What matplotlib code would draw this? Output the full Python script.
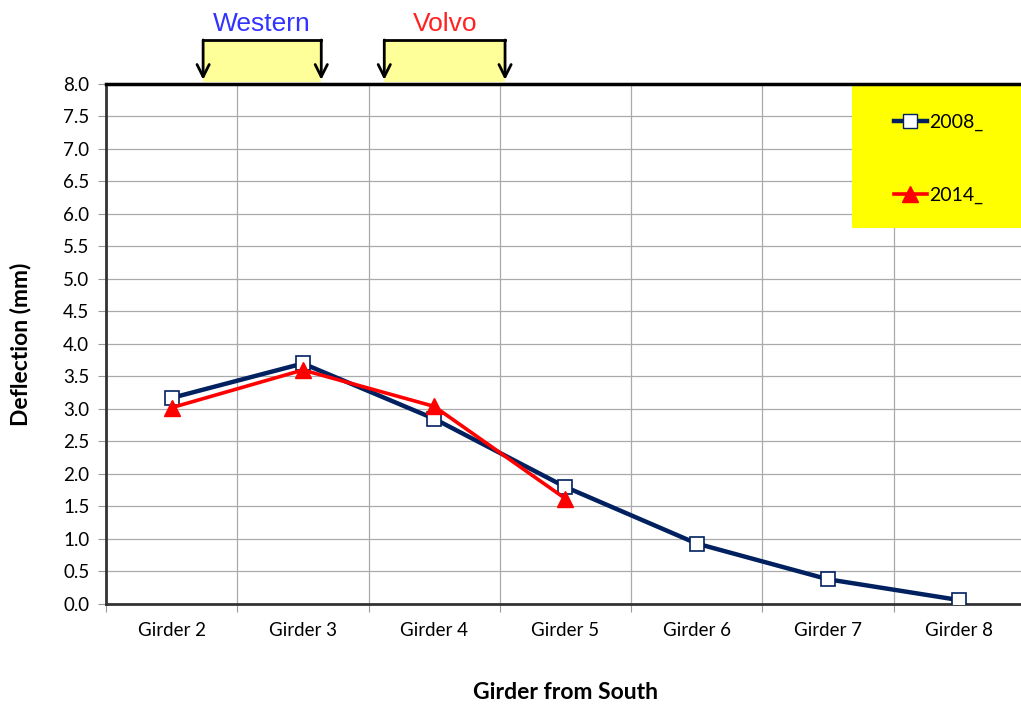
import matplotlib
matplotlib.use("Agg")
import matplotlib.pyplot as plt
from matplotlib.lines import Line2D
from matplotlib.patches import Rectangle
import matplotlib.transforms as mtransforms

girders = ["Girder 2", "Girder 3", "Girder 4", "Girder 5", "Girder 6", "Girder 7", "Girder 8"]
defl_2008 = [3.17, 3.70, 2.85, 1.80, 0.93, 0.38, 0.06]
defl_2014 = [3.02, 3.60, 3.04, 1.62]
zone_names = ["Western", "Volvo"]
zone_colors = ["#3333FF", "#FF2222"]
zone_spans = [(0.24, 1.14), (1.62, 2.54)]

plt.rcParams['font.family'] = ['Lato', 'DejaVu Sans']

fig = plt.figure(figsize=(10.21, 7.07), dpi=100)
ax = fig.add_axes([0.1038, 0.1457, 0.9, 0.7355])

x8 = list(range(len(defl_2008)))
x14 = list(range(len(defl_2014)))
ax.plot(x8, defl_2008, color='#002060', lw=3.2, marker='s', ms=10,
        mfc='white', mec='#002060', mew=1.2, zorder=4)
ax.plot(x14, defl_2014, color='red', lw=2.6, marker='^', ms=11,
        mfc='red', mec='red', zorder=5)

ax.set_xlim(-0.5, 6.5)
ax.set_ylim(0, 8)
ax.set_yticks([i * 0.5 for i in range(17)])
ax.set_yticklabels(["%.1f" % (i * 0.5) for i in range(17)], fontsize=13.5)
ax.set_xticks([i - 0.5 for i in range(8)])
ax.set_xticklabels([])
ax.set_xticks(range(7), minor=True)
ax.set_xticklabels(girders, minor=True, fontsize=13.5)
ax.tick_params(axis='x', which='minor', length=0, pad=13)
ax.tick_params(axis='x', which='major', length=6, color='#999999', direction='out')
ax.tick_params(axis='y', length=6, color='#999999', direction='out', pad=6)

ax.grid(True, which='major', color='#AAAAAA', lw=0.9, zorder=0)
for s in ['left', 'bottom']:
    ax.spines[s].set_linewidth(2)
    ax.spines[s].set_color('#333333')
ax.spines['top'].set_linewidth(2.5)
ax.spines['top'].set_color('black')
ax.spines['right'].set_visible(False)

ax.set_ylabel("Deflection (mm)", fontsize=16.5, fontweight='bold', labelpad=23)
ax.set_xlabel("Girder from South", fontsize=16.5, fontweight='bold', labelpad=31)

# legend panel
ax.add_patch(Rectangle((5.18, 5.78), 1.4, 2.22, facecolor='yellow', edgecolor='none', zorder=2))
handles = [Line2D([], [], color='#002060', lw=3.2, marker='s', ms=10, mfc='white', mec='#002060'),
           Line2D([], [], color='red', lw=2.6, marker='^', ms=11, mfc='red', mec='red')]
leg = ax.legend(handles, ["2008_", "2014_"], loc='upper left', bbox_to_anchor=(0.839, 0.976),
                frameon=False, fontsize=14, handlelength=1.65, handletextpad=0.15,
                labelspacing=2.86)
leg.set_zorder(6)

# location brackets above the plot
trans = mtransforms.blended_transform_factory(ax.transData, ax.transAxes)
for name, col, (x0, x1) in zip(zone_names, zone_colors, zone_spans):
    ax.add_patch(Rectangle((x0, 1.004), x1 - x0, 1.0846 - 1.004, transform=trans,
                           facecolor='#FFFF99', edgecolor='none', clip_on=False, zorder=3))
    ax.plot([x0, x1], [1.0846, 1.0846], transform=trans, color='black', lw=2,
            clip_on=False, zorder=4, solid_capstyle='projecting')
    for xx in (x0, x1):
        ax.annotate('', xy=(xx, 1.008), xytext=(xx, 1.0846), xycoords=trans, textcoords=trans,
                    arrowprops=dict(arrowstyle='->', lw=2, color='black',
                                    shrinkA=0, shrinkB=0, mutation_scale=22),
                    annotation_clip=False, zorder=4)
    ax.text((x0 + x1) / 2, 1.115, name, transform=trans, color=col, fontsize=19,
            family='Liberation Sans', ha='center', va='center')

fig.savefig("out.png", dpi=100)
